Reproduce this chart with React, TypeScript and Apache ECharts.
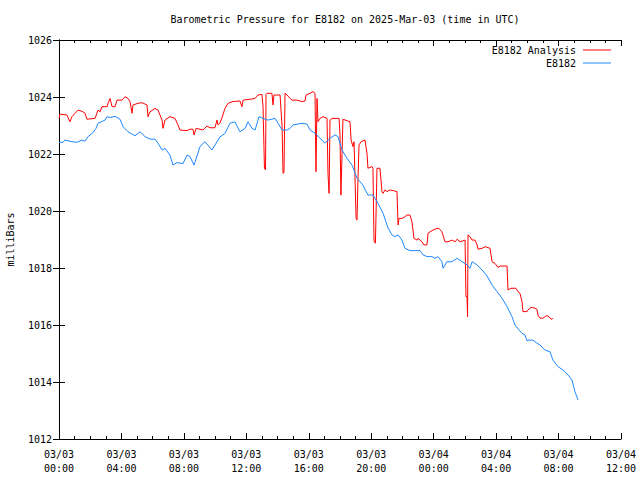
import React, { useEffect, useRef } from "react";
import * as echarts from "echarts";

const TITLE = "Barometric Pressure for E8182 on 2025-Mar-03 (time in UTC)";
const Y_NAME = "milliBars";
const SERIES_NAMES = ["E8182 Analysis", "E8182"];

// x tick labels (every 4 hours from 2025-03-03 00:00 UTC)
const xTickLabels = [
  "03/03\n00:00", "03/03\n04:00", "03/03\n08:00", "03/03\n12:00", "03/03\n16:00",
  "03/03\n20:00", "03/04\n00:00", "03/04\n04:00", "03/04\n08:00", "03/04\n12:00",
];
const yTicks = [1012, 1014, 1016, 1018, 1020, 1022, 1024, 1026];

// Analysis series: hours since 03/03 00:00 UTC, pressure (mb)
const analysisHours = [
  0, 0.06, 0.51, 0.7, 0.83, 1.03, 1.22, 1.47, 1.67, 1.79, 2.31, 2.5, 2.63, 2.75, 3.08, 3.14, 3.27, 3.4, 3.59, 3.72,
  4.04, 4.23, 4.42, 4.55, 4.68, 4.74, 5.06, 5.32, 5.64, 5.7, 5.83, 6.15, 6.34, 6.6, 6.66, 6.79, 7.11, 7.43, 7.62, 7.75,
  8.2, 8.39, 8.58, 8.65, 8.78, 9.22, 9.48, 9.67, 9.99, 10.12, 10.19, 10.31, 10.5, 10.63, 10.83, 11.15, 11.59, 11.72, 11.79, 12.36,
  12.56, 12.75, 13.0, 13.07, 13.16, 13.23, 13.26, 13.32, 13.64, 13.71, 13.77, 14.16, 14.29, 14.35, 14.41, 14.48, 14.61, 14.8, 14.93, 15.25,
  15.57, 15.76, 15.82, 16.08, 16.27, 16.4, 16.46, 16.53, 16.59, 16.72, 16.91, 17.17, 17.23, 17.3, 17.36, 17.49, 17.94, 18.0, 18.06, 18.19,
  18.64, 18.71, 18.83, 18.9, 19.03, 19.09, 19.15, 19.22, 19.35, 19.6, 19.73, 19.79, 20.05, 20.11, 20.18, 20.27, 20.37, 20.56, 20.69, 20.76,
  20.88, 21.01, 21.2, 21.52, 21.65, 21.72, 21.78, 21.97, 22.16, 22.29, 22.48, 22.61, 22.74, 22.93, 23.0, 23.13, 23.25, 23.38, 23.57, 23.64,
  23.77, 23.96, 24.21, 24.34, 24.53, 24.73, 24.92, 25.17, 25.37, 25.5, 25.69, 26.01, 26.07, 26.14, 26.17, 26.2, 26.33, 26.46, 26.65, 26.78,
  26.84, 27.1, 27.29, 27.61, 27.74, 27.93, 28.12, 28.25, 28.7, 28.76, 28.95, 29.27, 29.4, 29.53, 29.66, 29.72, 29.98, 30.04, 30.24, 30.49,
  30.62, 30.68, 30.81, 31.0, 31.2, 31.32, 31.45, 31.58, 31.64,
];
const analysisValues = [
  1023.25, 1023.4, 1023.37, 1023.13, 1023.31, 1023.43, 1023.54, 1023.5, 1023.43, 1023.22, 1023.25, 1023.54, 1023.48, 1023.66, 1023.66, 1023.78, 1023.95, 1023.66, 1023.66, 1023.89,
  1023.89, 1024.01, 1023.95, 1023.84, 1023.43, 1023.72, 1023.78, 1023.8, 1023.72, 1023.31, 1023.48, 1023.6, 1023.54, 1023.19, 1022.9, 1023.19, 1023.31, 1023.25, 1023.02, 1022.84,
  1022.82, 1022.87, 1022.87, 1022.67, 1022.9, 1022.84, 1022.98, 1022.92, 1022.92, 1023.19, 1023.02, 1023.08, 1023.37, 1023.6, 1023.78, 1023.84, 1023.86, 1023.66, 1023.89, 1023.93,
  1023.95, 1024.07, 1024.09, 1023.66, 1021.5, 1021.44, 1024.09, 1024.13, 1024.13, 1023.72, 1024.07, 1024.07, 1022.96, 1021.32, 1021.35, 1024.13, 1024.07, 1023.95, 1023.89, 1023.89,
  1023.84, 1023.86, 1024.07, 1024.13, 1024.19, 1024.13, 1021.38, 1023.95, 1023.13, 1023.25, 1023.31, 1023.25, 1021.32, 1020.62, 1023.19, 1023.25, 1023.25, 1022.67, 1020.56, 1023.22,
  1023.13, 1022.49, 1022.26, 1022.43, 1019.74, 1019.68, 1021.09, 1022.32, 1022.43, 1022.49, 1022.02, 1021.5, 1021.56, 1021.5, 1018.92, 1018.87, 1021.5, 1021.5, 1020.68, 1020.62,
  1020.74, 1020.68, 1020.74, 1020.7, 1020.68, 1019.51, 1019.74, 1019.74, 1019.8, 1019.86, 1019.86, 1019.62, 1019.04, 1018.98, 1019.04, 1018.98, 1018.92, 1018.81, 1018.81, 1019.22,
  1019.27, 1019.33, 1019.39, 1019.39, 1019.27, 1018.92, 1018.92, 1018.98, 1018.92, 1019.01, 1018.92, 1018.98, 1016.99, 1016.99, 1016.29, 1019.16, 1019.1, 1018.98, 1018.98, 1018.81,
  1018.66, 1018.69, 1018.75, 1018.69, 1018.22, 1018.16, 1018.02, 1018.07, 1018.07, 1017.23, 1017.29, 1017.29, 1017.17, 1017.11, 1016.82, 1016.47, 1016.47, 1016.53, 1016.62, 1016.59,
  1016.55, 1016.35, 1016.24, 1016.24, 1016.32, 1016.32, 1016.24, 1016.2, 1016.24,
];

// Observed series: hours since 03/03 00:00 UTC, pressure (mb)
const obsHours = [
  0, 0.26, 0.38, 0.83, 1.15, 1.47, 1.67, 1.86, 2.18, 2.37, 2.5, 2.95, 3.08, 3.27, 3.59, 3.91, 4.1, 4.42, 4.87, 5.19,
  5.51, 5.83, 6.15, 6.34, 6.6, 6.79, 7.11, 7.3, 7.56, 7.94, 8.2, 8.39, 8.65, 9.03, 9.35, 9.8, 10.31, 10.63, 10.95, 11.27,
  11.59, 11.92, 12.11, 12.36, 12.56, 12.81, 13.07, 13.39, 13.84, 14.03, 14.29, 14.61, 14.8, 14.99, 15.57, 15.89, 16.08, 16.4, 16.72, 17.04,
  17.36, 17.68, 17.87, 18.13, 18.45, 18.77, 19.09, 19.47, 19.79, 20.11, 20.43, 20.76, 21.08, 21.33, 21.52, 21.72, 21.97, 22.16, 22.48, 23.13,
  23.32, 23.57, 23.89, 24.09, 24.28, 24.53, 24.6, 24.85, 25.17, 25.5, 25.82, 26.14, 26.33, 26.46, 26.78, 27.1, 27.42, 27.74, 28.06, 28.38,
  28.7, 29.02, 29.21, 29.47, 29.66, 29.85, 29.98, 30.04, 30.36, 30.62, 30.81, 31.13, 31.45, 31.64, 31.96, 32.29, 32.61, 32.86, 33.05, 33.25,
];
const obsValues = [
  1022.41, 1022.41, 1022.49, 1022.43, 1022.41, 1022.49, 1022.45, 1022.61, 1022.75, 1022.9, 1023.08, 1023.19, 1023.31, 1023.28, 1023.32, 1023.22, 1022.96, 1022.78, 1022.64, 1022.78,
  1022.61, 1022.52, 1022.52, 1022.38, 1022.14, 1022.2, 1021.96, 1021.61, 1021.7, 1021.66, 1021.96, 1021.91, 1021.61, 1022.26, 1022.43, 1022.14, 1022.6, 1022.72, 1023.08, 1023.13,
  1022.78, 1022.9, 1023.13, 1022.9, 1022.84, 1023.31, 1023.25, 1023.19, 1023.25, 1023.08, 1022.84, 1022.84, 1022.9, 1023.02, 1023.08, 1023.05, 1022.84, 1022.73, 1022.55, 1022.38,
  1022.55, 1022.67, 1022.61, 1022.14, 1021.85, 1021.61, 1021.15, 1020.91, 1020.56, 1020.56, 1020.27, 1019.92, 1019.4, 1019.16, 1019.1, 1019.16, 1018.98, 1018.69, 1018.61, 1018.61,
  1018.46, 1018.4, 1018.4, 1018.34, 1018.4, 1018.22, 1017.99, 1018.22, 1018.22, 1018.34, 1018.22, 1018.11, 1017.99, 1018.22, 1018.11, 1017.93, 1017.72, 1017.4, 1017.17, 1016.94,
  1016.64, 1016.29, 1016.0, 1015.82, 1015.71, 1015.65, 1015.44, 1015.47, 1015.47, 1015.36, 1015.3, 1015.12, 1015.06, 1014.77, 1014.54, 1014.42, 1014.25, 1014.07, 1013.66, 1013.37,
];

const FONT = "DejaVu Sans Mono";

export default function App() {
  const ref = useRef<HTMLDivElement>(null);

  useEffect(() => {
    if (!ref.current) return;
    const chart = echarts.init(ref.current, null, { renderer: "svg" });
    const tickStyle = { show: true, inside: true, length: 6, lineStyle: { color: "#000", width: 1 } };
    const minorStyle = { show: true, splitNumber: 4, length: 3, lineStyle: { color: "#000", width: 1 } };
    const lineAxis = { show: true, lineStyle: { color: "#000", width: 1 } };
    const xBase = {
      type: "value" as const,
      min: 0,
      max: 36,
      interval: 4,
      axisLine: lineAxis,
      axisTick: tickStyle,
      minorTick: minorStyle,
      splitLine: { show: false },
    };
    const yBase = {
      type: "value" as const,
      min: 1012,
      max: 1026,
      interval: 2,
      axisLine: lineAxis,
      axisTick: tickStyle,
      splitLine: { show: false },
    };
    chart.setOption({
      animation: false,
      backgroundColor: "#fff",
      title: {
        text: TITLE,
        left: 340,
        textAlign: "center",
        top: 9,
        textStyle: { fontFamily: FONT, fontSize: 10, fontWeight: "normal", color: "#000" },
      },
      legend: {
        right: 24,
        top: 40,
        orient: "vertical",
        align: "right",
        itemWidth: 28,
        itemHeight: 1,
        itemGap: 3,
        icon: "rect",
        textStyle: { fontFamily: FONT, fontSize: 10, color: "#000", padding: [0, 2, 0, 0] },
        data: SERIES_NAMES,
      },
      grid: { left: 59, right: 19, top: 40, bottom: 41, containLabel: false, outerBoundsMode: "none" },
      xAxis: [
        {
          ...xBase,
          position: "bottom",
          axisLabel: {
            show: true,
            margin: 8,
            fontFamily: FONT,
            fontSize: 10,
            color: "#000",
            lineHeight: 14,
            formatter: (v: number) => xTickLabels[Math.round(v / 4)] ?? "",
          },
        },
        { ...xBase, position: "top", axisLabel: { show: false } },
      ],
      yAxis: [
        {
          ...yBase,
          position: "left",
          name: Y_NAME,
          nameLocation: "middle",
          nameGap: 44,
          nameRotate: 90,
          nameTextStyle: { fontFamily: FONT, fontSize: 10, color: "#000" },
          axisLabel: {
            show: true,
            margin: 7,
            fontFamily: FONT,
            fontSize: 10,
            color: "#000",
            formatter: (v: number) => (yTicks.includes(v) ? String(v) : ""),
          },
        },
        { ...yBase, position: "right", axisLabel: { show: false } },
      ],
      series: [
        {
          name: SERIES_NAMES[0],
          type: "line",
          data: analysisHours.map((h, i) => [h, analysisValues[i]]),
          showSymbol: false,
          symbol: "none",
          lineStyle: { color: "#ff0000", width: 1 },
          itemStyle: { color: "#ff0000" },
          xAxisIndex: 0,
          yAxisIndex: 0,
        },
        {
          name: SERIES_NAMES[1],
          type: "line",
          data: obsHours.map((h, i) => [h, obsValues[i]]),
          showSymbol: false,
          symbol: "none",
          lineStyle: { color: "#1e88ff", width: 1 },
          itemStyle: { color: "#1e88ff" },
          xAxisIndex: 0,
          yAxisIndex: 0,
        },
      ],
    });
    return () => chart.dispose();
  }, []);

  return (
    <div
      ref={ref}
      style={{ position: "fixed", left: 0, top: 0, width: 640, height: 480, background: "#fff" }}
    />
  );
}
